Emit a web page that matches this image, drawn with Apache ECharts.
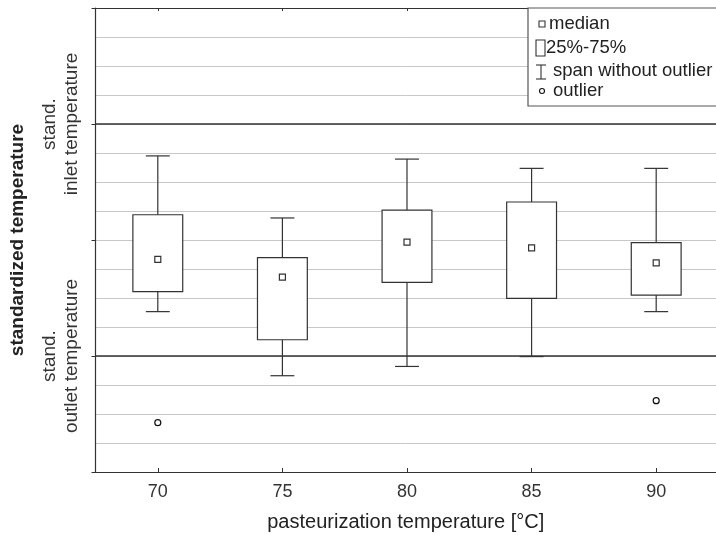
<!DOCTYPE html>
<html>
<head>
<meta charset="utf-8">
<script src="https://cdn.jsdelivr.net/npm/echarts@6/dist/echarts.min.js"></script>
<style>
  html, body { margin: 0; padding: 0; background: #fff; }
  #chart { width: 716px; height: 535px; }
</style>
</head>
<body>
<div id="chart"></div>
<script>
// pasteurization temperatures (x)
const temps = [70, 75, 80, 85, 90];
// standardized temperature, 4 = stand. outlet, 12 = stand. inlet
const whiskerLow = [5.53, 3.32, 3.64, 3.98, 5.53];
const q1 = [6.22, 4.56, 6.54, 5.99, 6.10];
const medians = [7.33, 6.72, 7.93, 7.73, 7.21];
const q3 = [8.87, 7.39, 9.03, 9.31, 7.91];
const whiskerHigh = [10.9, 8.76, 10.79, 10.47, 10.47];
const outlierTemps = [70, 90];
const outlierValues = [1.70, 2.46];
const refLevels = [4, 12];
const refLabels = ['stand.\noutlet temperature', 'stand.\ninlet temperature'];
const xTicks = [70, 75, 80, 85, 90];

const boxData = temps.map((t, i) => [t, whiskerLow[i], q1[i], medians[i], q3[i], whiskerHigh[i]]);
const outlierData = outlierTemps.map((t, i) => [t, outlierValues[i]]);

const ink = '#333';
const font = 'Liberation Sans, Arial, sans-serif';

function renderBox(params, api) {
  const x = api.value(0);
  const lo = api.coord([x, api.value(1)]);
  const b1 = api.coord([x, api.value(2)]);
  const md = api.coord([x, api.value(3)]);
  const b3 = api.coord([x, api.value(4)]);
  const hi = api.coord([x, api.value(5)]);
  const boxL = api.coord([x - 1, 0])[0];
  const boxR = api.coord([x + 1, 0])[0];
  const capL = api.coord([x - 0.48, 0])[0];
  const capR = api.coord([x + 0.48, 0])[0];
  const line = { stroke: ink, lineWidth: 1.2 };
  return {
    type: 'group',
    children: [
      { type: 'line', shape: { x1: lo[0], y1: lo[1], x2: b1[0], y2: b1[1] }, style: line },
      { type: 'line', shape: { x1: b3[0], y1: b3[1], x2: hi[0], y2: hi[1] }, style: line },
      { type: 'line', shape: { x1: capL, y1: lo[1], x2: capR, y2: lo[1] }, style: line },
      { type: 'line', shape: { x1: capL, y1: hi[1], x2: capR, y2: hi[1] }, style: line },
      { type: 'rect', shape: { x: boxL, y: b3[1], width: boxR - boxL, height: b1[1] - b3[1] },
        style: { fill: '#fff', stroke: ink, lineWidth: 1.2 } },
      { type: 'rect', shape: { x: md[0] - 3, y: md[1] - 3, width: 6, height: 6 },
        style: { fill: '#fff', stroke: ink, lineWidth: 1.2 } }
    ]
  };
}

const chart = echarts.init(document.getElementById('chart'));

// legend drawn as plain graphics on top of the grid
const legendItems = [
  { type: 'rect', shape: { x: 528, y: 8, width: 200, height: 98 },
    style: { fill: '#fff', stroke: '#555', lineWidth: 1.2 } },
  { type: 'rect', shape: { x: 539, y: 21, width: 6, height: 6 },
    style: { fill: '#fff', stroke: ink, lineWidth: 1.1 } },
  { type: 'text', x: 549, y: 24,
    style: { text: 'median', fontSize: 18.5, fill: '#222', fontFamily: font, verticalAlign: 'middle' } },
  { type: 'rect', shape: { x: 536, y: 40, width: 9, height: 16 },
    style: { fill: '#fff', stroke: ink, lineWidth: 1.1 } },
  { type: 'text', x: 546, y: 48,
    style: { text: '25%-75%', fontSize: 18.5, fill: '#222', fontFamily: font, verticalAlign: 'middle' } },
  { type: 'polyline', shape: { points: [[536, 65], [546, 65]] }, style: { stroke: ink, lineWidth: 1.1 } },
  { type: 'polyline', shape: { points: [[536, 79], [546, 79]] }, style: { stroke: ink, lineWidth: 1.1 } },
  { type: 'polyline', shape: { points: [[541, 65], [541, 79]] }, style: { stroke: ink, lineWidth: 1.1 } },
  { type: 'text', x: 553, y: 71,
    style: { text: 'span without outlier', fontSize: 18.5, fill: '#222', fontFamily: font, verticalAlign: 'middle' } },
  { type: 'circle', shape: { cx: 542, cy: 91, r: 2.5 },
    style: { fill: '#fff', stroke: '#111', lineWidth: 1.1 } },
  { type: 'text', x: 553, y: 91,
    style: { text: 'outlier', fontSize: 18.5, fill: '#222', fontFamily: font, verticalAlign: 'middle' } }
].map(el => Object.assign({ z: 100, zlevel: 1 }, el));

const option = {
  animation: false,
  grid: { left: 95.5, right: 0, top: 8, bottom: 63, outerBoundsMode: 'none' },
  xAxis: [
    {
      type: 'value',
      min: 67.5,
      max: 92.4,
      name: 'pasteurization temperature [°C]',
      nameLocation: 'middle',
      nameGap: 40,
      nameTextStyle: { fontSize: 20, color: '#222', fontFamily: font },
      axisLine: { lineStyle: { color: ink, width: 1.2 } },
      axisTick: { inside: true, length: 4, customValues: xTicks, lineStyle: { color: ink } },
      axisLabel: { customValues: xTicks, fontSize: 18, color: '#333', margin: 11, fontFamily: font },
      splitLine: { show: false }
    },
    {
      type: 'value',
      position: 'top',
      min: 67.5,
      max: 92.4,
      axisLine: { lineStyle: { color: ink, width: 1.2 } },
      axisTick: { inside: true, length: 3, customValues: xTicks, lineStyle: { color: ink } },
      axisLabel: { show: false },
      splitLine: { show: false }
    }
  ],
  yAxis: {
    type: 'value',
    min: 0,
    max: 16,
    interval: 4,
    name: 'standardized temperature',
    nameLocation: 'middle',
    nameGap: 68,
    nameMoveOverlap: false,
    nameTextStyle: { fontSize: 19, fontWeight: 'bold', color: '#222', fontFamily: font },
    axisLine: { show: true, lineStyle: { color: ink, width: 1.2 } },
    axisTick: { show: true, length: 4, lineStyle: { color: ink } },
    minorTick: { show: false, splitNumber: 4 },
    minorSplitLine: { show: true, lineStyle: { color: '#c8c8c8', width: 1 } },
    axisLabel: {
      customValues: refLevels,
      formatter: v => refLabels[refLevels.indexOf(v)] || '',
      rotate: 90,
      margin: 13,
      fontSize: 19,
      lineHeight: 22,
      color: '#333',
      fontFamily: font
    },
    splitLine: { show: true, lineStyle: { color: '#c8c8c8', width: 1 } }
  },
  series: [
    {
      type: 'custom',
      renderItem: renderBox,
      encode: { x: 0, y: [1, 2, 3, 4, 5] },
      data: boxData,
      z: 3,
      markLine: {
        silent: true,
        symbol: 'none',
        label: { show: false },
        lineStyle: { color: ink, width: 1.5, type: 'solid' },
        data: refLevels.map(v => ({ yAxis: v }))
      }
    },
    {
      type: 'scatter',
      data: outlierData,
      symbol: 'circle',
      symbolSize: 6,
      itemStyle: { color: '#fff', borderColor: '#111', borderWidth: 1.2, opacity: 1 },
      z: 4
    }
  ],
  graphic: legendItems
};

chart.setOption(option);
</script>
</body>
</html>
